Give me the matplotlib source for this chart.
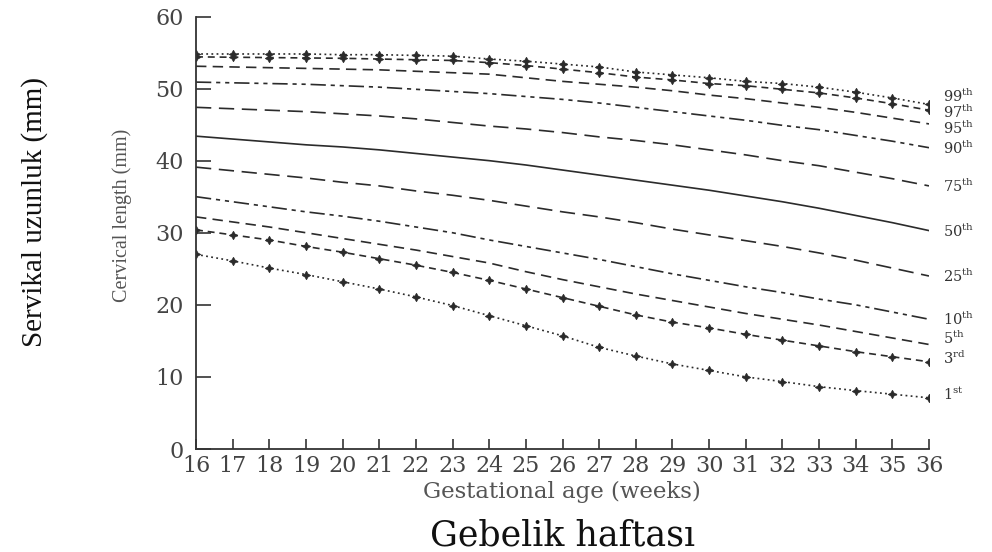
import matplotlib
matplotlib.use("Agg")
import matplotlib.pyplot as plt

plt.rcParams['lines.scale_dashes'] = False
plt.rcParams['mathtext.fontset'] = 'custom'
plt.rcParams['mathtext.rm'] = 'DejaVu Serif'

weeks = list(range(16, 37))

p99 = [54.8, 54.8, 54.8, 54.8, 54.7, 54.7, 54.6, 54.5, 54.1, 53.8, 53.4,
       53.0, 52.3, 51.9, 51.5, 51.0, 50.7, 50.2, 49.5, 48.7, 47.8]
p97 = [54.4, 54.35, 54.3, 54.25, 54.2, 54.1, 54.0, 53.9, 53.6, 53.2, 52.7,
       52.2, 51.6, 51.2, 50.7, 50.4, 49.9, 49.4, 48.7, 47.9, 47.0]
p95 = [53.1, 53.0, 52.9, 52.8, 52.7, 52.6, 52.4, 52.2, 52.0, 51.5, 51.0,
       50.6, 50.2, 49.7, 49.1, 48.6, 48.0, 47.4, 46.7, 45.9, 45.1]
p90 = [50.9, 50.8, 50.7, 50.6, 50.4, 50.2, 49.9, 49.6, 49.3, 48.9, 48.5,
       48.0, 47.4, 46.8, 46.2, 45.6, 44.9, 44.3, 43.5, 42.7, 41.8]
p75 = [47.4, 47.2, 47.0, 46.8, 46.5, 46.2, 45.8, 45.3, 44.8, 44.4, 43.9,
       43.3, 42.8, 42.2, 41.5, 40.8, 40.0, 39.3, 38.4, 37.5, 36.5]
p50 = [43.4, 43.0, 42.6, 42.2, 41.9, 41.5, 41.0, 40.5, 40.0, 39.4, 38.7,
       38.0, 37.3, 36.6, 35.9, 35.1, 34.3, 33.4, 32.4, 31.4, 30.3]
p25 = [39.1, 38.6, 38.1, 37.6, 37.0, 36.5, 35.8, 35.2, 34.5, 33.7, 32.9,
       32.2, 31.4, 30.5, 29.7, 28.9, 28.1, 27.2, 26.2, 25.1, 24.0]
p10 = [35.0, 34.3, 33.6, 32.9, 32.3, 31.6, 30.8, 30.0, 29.0, 28.1, 27.2,
       26.3, 25.3, 24.3, 23.4, 22.5, 21.7, 20.8, 20.0, 19.0, 18.0]
p5 = [32.2, 31.5, 30.8, 30.0, 29.2, 28.4, 27.6, 26.7, 25.8, 24.6, 23.5,
      22.5, 21.5, 20.6, 19.7, 18.8, 18.0, 17.2, 16.3, 15.4, 14.5]
p3 = [30.4, 29.7, 29.0, 28.1, 27.3, 26.4, 25.5, 24.5, 23.4, 22.2, 21.0,
      19.8, 18.6, 17.6, 16.8, 15.9, 15.1, 14.3, 13.5, 12.8, 12.1]
p1 = [27.0, 26.1, 25.1, 24.2, 23.2, 22.2, 21.1, 19.9, 18.5, 17.1, 15.7,
      14.1, 12.9, 11.8, 10.9, 10.0, 9.35, 8.65, 8.1, 7.6, 7.1]

labels = ["99", "97", "95", "90", "75", "50", "25", "10", "5", "3", "1"]
suffixes = ["th", "th", "th", "th", "th", "th", "th", "th", "th", "rd", "st"]
series = [p99, p97, p95, p90, p75, p50, p25, p10, p5, p3, p1]
label_y = [48.9, 46.7, 44.5, 41.7, 36.5, 30.2, 24.0, 18.0, 15.3, 12.6, 7.6]

dot = (0, (1.3, 2.4))
shortdash = (0, (5, 3.5))
dash = (0, (7.5, 4.5))
longdash = (0, (11, 5.5))
dashdotdot = (0, (11, 3.5, 3, 3.5, 3, 3.5))
styles = [dot, shortdash, dash, dashdotdot, longdash, '-', longdash,
          dashdotdot, dash, shortdash, dot]
has_marker = [True, True, False, False, False, False, False, False, False, True, True]

col = '#2b2b2b'
fig = plt.figure(figsize=(9.92, 5.52), dpi=100)
ax = fig.add_axes([196/992, 1 - 449/552, (929 - 196)/992, (449 - 16.5)/552])

for vals, ls, mk in zip(series, styles, has_marker):
    ax.plot(weeks, vals, linestyle=ls, color=col, lw=1.2,
            marker=(4, 1, 0) if mk else None, markersize=6,
            markerfacecolor=col, markeredgecolor=col, markeredgewidth=0.6)

for lab, suf, ly in zip(labels, suffixes, label_y):
    ax.text(36.38, ly, r'$\mathregular{' + lab + '^{' + suf + '}}$',
            fontsize=10.5, family='DejaVu Serif', color='#333333',
            ha='left', va='center', clip_on=False)

ax.set_xlim(16, 36)
ax.set_ylim(0, 60)
ax.set_xticks(weeks)
ax.set_yticks(range(0, 61, 10))
for s in ['top', 'right']:
    ax.spines[s].set_visible(False)
for s in ['left', 'bottom']:
    ax.spines[s].set_color('#333333')
    ax.spines[s].set_linewidth(1.3)
ax.tick_params(axis='y', direction='in', length=11, width=1.2, color='#333333',
               pad=9, labelsize=16, labelcolor='#444444')
ax.tick_params(axis='x', direction='in', length=7, width=1.2, color='#333333',
               pad=4, labelsize=16, labelcolor='#444444')
for t in ax.get_xticklabels() + ax.get_yticklabels():
    t.set_family('DejaVu Serif')

fig.text(35/992, 1 - 212/552, 'Servikal uzunluk (mm)', rotation=90,
         ha='center', va='center', fontsize=21, family='Liberation Serif',
         color='#111111')
fig.text(122/992, 1 - 215/552, 'Cervical length (mm)', rotation=90,
         ha='center', va='center', fontsize=14.5, family='Liberation Serif',
         color='#555555')
fig.text(562/992, 1 - 492/552, 'Gestational age (weeks)', ha='center',
         va='center', fontsize=16.5, family='DejaVu Serif', color='#555555')
fig.text(562/992, 1 - 536/552, 'Gebelik haftası', ha='center', va='center',
         fontsize=25, family='DejaVu Serif', color='#111111')

fig.savefig('out.png', dpi=100, facecolor='white')
